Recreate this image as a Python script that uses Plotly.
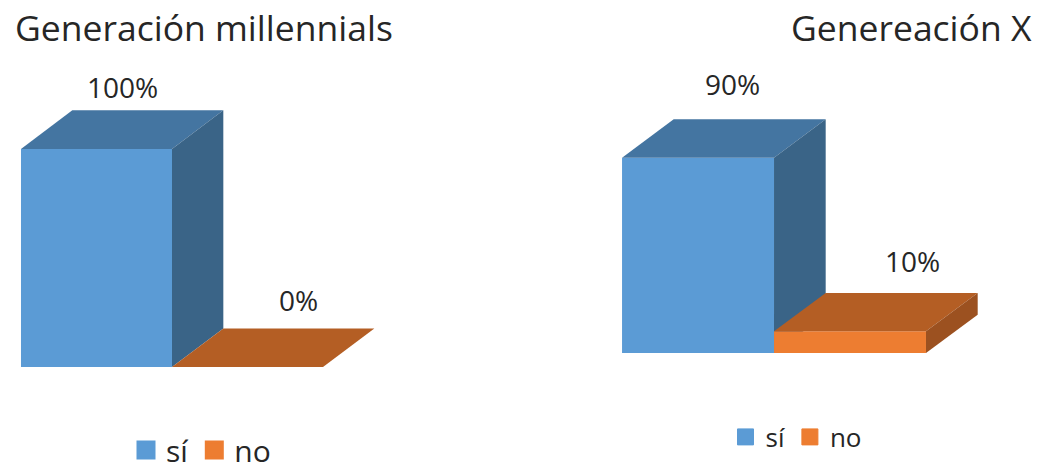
import plotly.graph_objects as go

# ---- data ----
categories = ["sí", "no"]
millennials = [100, 0]
gen_x = [90, 10]
chart_titles = ["Generación millennials", "Genereación X"]
label_texts_mill = ["100%", "0%"]
label_texts_x = ["90%", "10%"]

# ---- styles ----
FRONT = ["#5B9BD5", "#ED7D31"]
TOP = ["#4475A1", "#B45E24"]
SIDE = ["#3A6487", "#9C5120"]
TEXT = "#262626"
FONT = "Open Sans"
DX = 0.34    # depth offset in bar units
DY = 17.7    # depth offset in value units

W, H = 1038, 470
fig = go.Figure()


def add_bars(values, xa, ya, leg, msize, mline):
    for i, v in enumerate(values):
        u0, u1 = i, i + 1
        faces = [
            ([u0, u1, u1, u0, u0], [0, 0, v, v, 0], FRONT[i]),
            ([u0, u1, u1 + DX, u0 + DX, u0], [v, v, v + DY, v + DY, v], TOP[i]),
            ([u1, u1 + DX, u1 + DX, u1, u1], [0, DY, v + DY, v, 0], SIDE[i]),
        ]
        for xs, ys, col in faces:
            fig.add_trace(go.Scatter(
                x=xs, y=ys, xaxis=xa, yaxis=ya, mode="lines", fill="toself",
                fillcolor=col, line=dict(width=0, color=col),
                showlegend=False, hoverinfo="skip"))
    for i, c in enumerate(categories):
        fig.add_trace(go.Scatter(
            x=[None], y=[None], xaxis=xa, yaxis=ya, mode="markers", name=c,
            marker=dict(symbol="square", size=msize, color=FRONT[i],
                        line=dict(width=mline, color=FRONT[i])),
            legend=leg, showlegend=True))


def add_labels(values, texts, xref, yref, xshifts, yshifts, size):
    for i, (v, t) in enumerate(zip(values, texts)):
        fig.add_annotation(
            x=i + 0.5 + DX / 2, y=v + DY, xref=xref, yref=yref, text=t,
            showarrow=False, xanchor="center", yanchor="middle",
            xshift=xshifts[i], yshift=yshifts[i],
            font=dict(family=FONT, size=size, color=TEXT))


add_bars(millennials, "x", "y", "legend", 16, 3)
add_bars(gen_x, "x2", "y2", "legend2", 16, 1)
add_labels(millennials, label_texts_mill, "x", "y", [0, 25], [23, 28], 28)
add_labels(gen_x, label_texts_x, "x2", "y2", [9, 37], [35, 32], 28)

fig.add_annotation(x=13 / W, y=1 - 27 / H, xref="paper", yref="paper",
                   text=chart_titles[0], showarrow=False, xanchor="left",
                   yanchor="middle", font=dict(family=FONT, size=35.5, color=TEXT))
fig.add_annotation(x=1034 / W, y=1 - 27 / H, xref="paper", yref="paper",
                   text=chart_titles[1], showarrow=False, xanchor="right",
                   yanchor="middle", font=dict(family=FONT, size=35.5, color=TEXT))

ax = dict(visible=False, fixedrange=True)
fig.update_layout(
    width=W, height=H,
    margin=dict(l=0, r=0, t=0, b=0, pad=0, autoexpand=False),
    paper_bgcolor="white", plot_bgcolor="white",
    xaxis=dict(domain=[0, 0.5], range=[-0.139, 3.298], **ax),
    yaxis=dict(domain=[0, 1], range=[-47.2, 168.3], **ax),
    xaxis2=dict(domain=[0.5, 1], range=[-0.678, 2.737], anchor="y2", **ax),
    yaxis2=dict(domain=[0, 1], range=[-53.9, 162.7], anchor="x2", **ax),
    legend=dict(orientation="h", x=201 / W, y=1 - 450 / H,
                xanchor="center", yanchor="middle", itemsizing="trace",
                font=dict(family=FONT, size=30, color=TEXT)),
    legend2=dict(orientation="h", x=796 / W, y=1 - 437 / H,
                 xanchor="center", yanchor="middle", itemsizing="trace",
                 font=dict(family=FONT, size=26, color=TEXT)),
    showlegend=True,
)

fig.write_html(
    "out.html",
    config={"displayModeBar": False},
    post_script="document.body.style.margin='0';"
                "document.body.style.overflow='hidden';",
)
